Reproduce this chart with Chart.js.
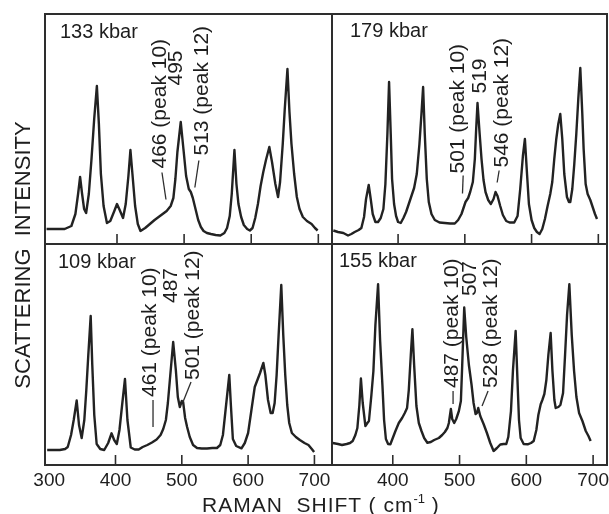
<!DOCTYPE html>
<html>
<head>
<meta charset="utf-8">
<script src="https://cdn.jsdelivr.net/npm/chart.js@4.4.0/dist/chart.umd.min.js"></script>
<style>
  body { margin: 0; background: #fff; }
  #fig { position: relative; width: 609px; height: 514px; font-family: "Liberation Sans", Arial, sans-serif; color: #1e1e1e; }
  #fig canvas { position: absolute; left: 0; top: 0; }
  .ytitle {
    position: absolute; left: -127px; top: 244px; width: 300px; height: 22px;
    line-height: 22px; font-size: 22px; text-align: center; white-space: pre;
    transform: rotate(-90deg); transform-origin: 50% 50%;
  }
  .xtitle {
    position: absolute; left: 202px; top: 494px; font-size: 21px; line-height: 21px;
    letter-spacing: 1px; white-space: pre;
  }
  .xtitle sup { font-size: 13px; vertical-align: baseline; position: relative; top: -9px; letter-spacing: 0; }
</style>
</head>
<body>
<div id="fig">
  <canvas id="c133" width="609" height="514"></canvas>
  <canvas id="c179" width="609" height="514"></canvas>
  <canvas id="c109" width="609" height="514"></canvas>
  <canvas id="c155" width="609" height="514"></canvas>
  <div class="ytitle">SCATTERING  INTENSITY</div>
  <div class="xtitle">RAMAN  SHIFT ( cm<sup>-1</sup> )</div>
</div>
<script>
//////////////////////// datos de los espectros ////////////////////////
// 133 kbar
const shift133 = [295, 308, 322, 332, 338, 342, 345, 348, 351, 354, 358, 362, 366, 370, 373, 376, 380, 385, 390, 396, 400, 404, 409, 413, 417, 420, 423, 427, 431, 435, 442, 449, 456, 462, 468, 474, 480, 484, 487, 490, 495, 499, 503, 507, 510, 513, 517, 521, 525, 529, 534, 540, 547, 554, 560, 564, 568, 571, 575, 578, 581, 585, 589, 594, 598, 602, 606, 610, 614, 618, 622, 627, 631, 636, 640, 643, 647, 650, 654, 657, 660, 664, 668, 672, 677, 683, 690, 695, 699];
const int133 = [15, 15, 15, 18, 30, 50, 67, 50, 35, 31, 50, 85, 125, 158, 120, 70, 38, 21, 23, 33, 40, 34, 26, 40, 68, 94, 70, 38, 20, 13, 16, 20, 24, 27, 30, 33, 38, 46, 65, 92, 122, 95, 68, 55, 52, 46, 35, 24, 17, 13, 11, 10, 9, 8.5, 11, 16, 28, 50, 94, 60, 40, 27, 19, 15, 13.5, 16, 26, 40, 58, 72, 84, 97, 82, 60, 47, 62, 100, 135, 175, 132, 100, 70, 47, 35, 27, 23, 20, 16, 13.5];

// 179 kbar
const shift179 = [303, 310, 318, 325, 330, 335, 341, 345, 349, 352, 356, 359, 362, 366, 370, 374, 378, 381, 384, 386.5, 389, 391, 394, 397, 400, 404, 408, 412, 416, 420, 424, 428, 432, 435, 437.5, 440, 443, 446, 450, 455, 462, 470, 478, 485, 490, 495, 499, 501, 505, 508, 512, 515, 517, 519, 522, 525, 528, 531, 535, 539, 543, 546, 549, 553, 557, 562, 567, 574, 579, 583, 587, 590, 593, 596, 600, 604, 608, 612, 616, 620, 624, 628, 631, 634, 637, 640, 643, 646, 649, 653, 656, 658, 661, 664, 667, 670, 673, 676, 678, 681, 684, 688, 691, 695, 698];
const int179 = [13.5, 12, 11, 8.5, 10, 12, 14, 16, 27, 45, 59, 45, 30, 22, 22, 26, 35, 60, 110, 162, 110, 65, 40, 28, 22, 21, 26, 32, 40, 48, 56, 70, 100, 130, 157, 110, 65, 42, 30, 24, 21.5, 21, 20.5, 20.5, 24, 30, 38, 42, 46, 52, 62, 85, 115, 141, 112, 85, 64, 52, 44, 40, 45, 52, 48, 38, 29, 23, 21.5, 21.5, 28, 55, 88, 105, 72, 40, 24, 16, 12, 10, 15, 25, 38, 50, 62, 85, 105, 120, 130, 105, 70, 47, 42, 42, 55, 80, 110, 145, 176, 130, 95, 60, 50, 44, 38, 30, 25];

// 109 kbar
const shift109 = [297, 305, 316, 324, 328, 333, 337, 341.5, 345, 349, 353, 356, 359, 362.6, 365, 368, 371.6, 377, 383, 389, 394, 398, 402, 406, 410, 414.3, 418, 423, 429, 435, 441, 448, 455, 462, 468, 472, 476, 479, 482, 487, 491, 494, 497, 500, 502, 505, 508, 512, 517, 523, 530, 538, 546, 553, 558, 562, 566, 571.6, 574, 577, 582, 590, 595, 600, 605, 610, 614, 618, 623, 626, 630, 634, 637, 640, 643, 646, 650, 653, 656, 659, 662, 666, 672, 678, 685, 691, 696, 699.5];
const int109 = [15, 15, 15, 16, 18, 30, 45, 64.5, 40, 27, 45, 75, 110, 149, 100, 50, 21, 16, 15, 22, 31.7, 25, 21, 35, 60, 86, 45, 17.5, 15.5, 15.5, 18, 20, 22.5, 25.5, 30, 36, 45, 62, 85, 123, 95, 68, 58, 64, 63, 47, 38, 28, 20, 17, 16.5, 16.5, 17, 17, 20, 30, 55, 90, 60, 26, 19, 16.7, 22, 32, 55, 78, 85, 92, 102, 90, 65, 52, 52, 62, 90, 130, 180, 130, 90, 60, 42, 32, 28, 25, 22, 20, 16, 13];

// 155 kbar
const shift155 = [310, 318, 324, 331, 336, 340, 344, 347, 350, 352.3, 355, 359, 362, 364.3, 368, 371, 374, 378, 381, 384.5, 387, 389.7, 393, 396.4, 400, 404, 409, 414, 418, 421.4, 424, 427, 429.4, 432, 435.4, 439, 443, 447, 451.8, 457, 462, 469, 474, 478, 481.8, 484, 487, 489, 492, 495, 499, 502, 504, 507, 510, 514, 518, 521, 524, 526, 528, 531, 536, 541, 546, 551, 556, 561, 566, 570, 573, 577, 580, 584, 587, 589, 591.5, 596, 602, 607, 611, 615, 618, 621.5, 624, 627, 630, 633, 636.4, 639, 642, 644, 648, 651, 655, 658, 661, 664.4, 668, 671.5, 675, 679, 684, 689, 693, 696.3];
const int155 = [22, 21, 20, 21, 22, 24, 30, 37, 60, 86.5, 62, 39, 42, 44, 70, 94, 140, 180.7, 125, 80, 45, 26, 21, 20.7, 27, 34, 42, 47, 52, 57, 75, 110, 135.7, 100, 59, 42, 34, 27, 22.3, 23, 25, 27, 30, 33, 37, 42, 56, 46, 42, 46, 54, 64, 100, 157.5, 128, 100, 80, 62, 51, 52, 57, 49, 41, 32, 22, 14, 17, 20.5, 21, 21, 28, 54, 95, 134, 80, 45, 27, 21, 20.7, 22, 24, 35, 50, 60.7, 65, 71, 85, 110, 132, 95, 65, 57, 58, 60, 72, 110, 150, 180.7, 130, 94, 68, 52, 44, 34, 29, 24];

// etiquetas del eje x
const ticksLeft = [300, 400, 500, 600, 700];
const ticksRight = [400, 500, 600, 700];

// anotaciones de picos: texto, posición (cm-1, intensidad) y guía
const notes133 = [
  { text: '466 (peak 10)', at: [464, 75.5], line: [467, 71.5, 473, 44.5] },
  { text: '495', at: [488, 158.5] },
  { text: '513 (peak 12)', at: [526.7, 88.5], line: [522, 83.5, 516, 56.5] }
];
const notes179 = [
  { text: '501 (peak 10)', at: [490, 70.5], line: [497.5, 68.5, 496.5, 50.5] },
  { text: '519', at: [523, 150.5] },
  { text: '546 (peak 12)', at: [556, 76.5], line: [551.4, 73.5, 548.4, 61.5] }
];
const notes109 = [
  { text: '461 (peak 10)', at: [452.8, 68], line: [456.6, 65, 456.6, 38] },
  { text: '487', at: [483.7, 162] },
  { text: '501 (peak 12)', at: [516.9, 85], line: [513.9, 83, 501.8, 63] }
];
const notes155 = [
  { text: '487 (peak 10)', at: [488.8, 77], line: [490.3, 74, 490.3, 61] },
  { text: '507', at: [515.7, 169] },
  { text: '528 (peak 12)', at: [547.2, 77], line: [542.7, 74, 533.7, 59] }
];

const FONT = '"Liberation Sans", Arial, sans-serif';
const INK = '#1e1e1e';

//////////////////////// marco, ticks interiores y textos ////////////////////////
function makeDecor(cfg) {
  return {
    id: 'decor',
    afterDraw(chart) {
      const ctx = chart.ctx;
      const a = chart.chartArea;
      const x = chart.scales.x;
      const y = chart.scales.y;
      ctx.save();
      ctx.strokeStyle = '#2e2e2e';
      ctx.lineWidth = 2;
      ctx.strokeRect(a.left, a.top, a.right - a.left, a.bottom - a.top);

      // ticks hacia dentro
      ctx.lineWidth = 1.6;
      cfg.ticks.forEach(v => {
        if (v <= 300) return;
        const px = x.getPixelForValue(v);
        ctx.beginPath();
        ctx.moveTo(px, a.bottom);
        ctx.lineTo(px, a.bottom - 10);
        ctx.stroke();
      });

      ctx.fillStyle = INK;
      ctx.font = '20px ' + FONT;
      ctx.textAlign = 'left';
      ctx.textBaseline = 'alphabetic';
      ctx.fillText(cfg.label, a.left + cfg.labelPos[0], a.top + cfg.labelPos[1]);

      // textos verticales de los picos
      ctx.font = '21px ' + FONT;
      ctx.lineWidth = 1.3;
      cfg.notes.forEach(n => {
        if (n.line) {
          ctx.beginPath();
          ctx.moveTo(x.getPixelForValue(n.line[0]), y.getPixelForValue(n.line[1]));
          ctx.lineTo(x.getPixelForValue(n.line[2]), y.getPixelForValue(n.line[3]));
          ctx.stroke();
        }
        ctx.save();
        ctx.translate(x.getPixelForValue(n.at[0]), y.getPixelForValue(n.at[1]));
        ctx.rotate(-Math.PI / 2);
        ctx.textBaseline = 'middle';
        ctx.fillText(n.text, 0, 0);
        ctx.restore();
      });
      ctx.restore();
    }
  };
}

function makePanel(id, cfg) {
  const ctx = document.getElementById(id).getContext('2d');
  return new Chart(ctx, {
    type: 'line',
    data: {
      datasets: [{
        data: cfg.xs.map((v, i) => ({ x: v, y: cfg.ys[i] })),
        borderColor: '#222',
        borderWidth: 2.4,
        borderJoinStyle: 'round',
        pointRadius: 0,
        tension: 0
      }]
    },
    options: {
      responsive: false,
      maintainAspectRatio: false,
      animation: false,
      devicePixelRatio: 1,
      events: [],
      layout: { padding: cfg.pad },
      plugins: { legend: { display: false }, tooltip: { enabled: false } },
      scales: {
        x: {
          type: 'linear',
          min: cfg.xmin,
          max: cfg.xmax,
          display: cfg.showTicks,
          grid: { display: false, drawTicks: false },
          border: { display: false },
          ticks: { font: { size: 19, family: FONT }, color: INK, padding: 4, maxRotation: 0 },
          afterBuildTicks: s => { s.ticks = cfg.ticks.map(v => ({ value: v })); },
          afterFit: s => {
            if (!cfg.showTicks) return;
            s.height = 40; s.paddingLeft = 0; s.paddingRight = 0;
          }
        },
        y: { type: 'linear', min: 0, max: cfg.ymax, display: false }
      }
    },
    plugins: [makeDecor(cfg)]
  });
}

document.addEventListener('DOMContentLoaded', function () {
  makePanel('c133', {
    xs: shift133, ys: int133, notes: notes133, label: '133 kbar', labelPos: [15, 24],
    xmin: 292.7, xmax: 720.4, ymax: 230, ticks: ticksLeft, showTicks: false,
    pad: { left: 45, top: 14, right: 277, bottom: 270 }
  });
  makePanel('c179', {
    xs: shift179, ys: int179, notes: notes179, label: '179 kbar', labelPos: [18, 23],
    xmin: 301, xmax: 713, ymax: 230, ticks: ticksRight, showTicks: false,
    pad: { left: 332, top: 14, right: 2, bottom: 270 }
  });
  makePanel('c109', {
    xs: shift109, ys: int109, notes: notes109, label: '109 kbar', labelPos: [13, 24],
    xmin: 293.7, xmax: 726.5, ymax: 221, ticks: ticksLeft, showTicks: true,
    pad: { left: 45, top: 244, right: 277, bottom: 9 }
  });
  makePanel('c155', {
    xs: shift155, ys: int155, notes: notes155, label: '155 kbar', labelPos: [7, 23],
    xmin: 309, xmax: 720.8, ymax: 221, ticks: ticksRight, showTicks: true,
    pad: { left: 332, top: 244, right: 2, bottom: 9 }
  });
});
</script>
</body>
</html>
